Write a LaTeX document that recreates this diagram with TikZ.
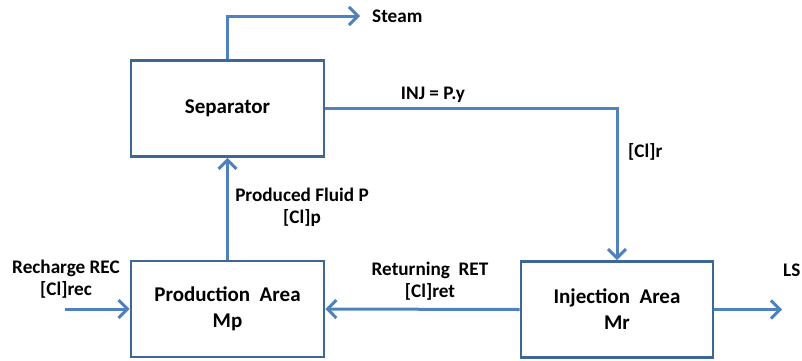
\documentclass[tikz,border=0pt]{standalone}
\usepackage{fontspec}
\setmainfont{Carlito}
\usetikzlibrary{arrows.meta}
\definecolor{flow}{HTML}{4F81BD}
\definecolor{boxc}{HTML}{3F6796}
\begin{document}
\begin{tikzpicture}[x=1pt,y=-1pt,
  blk/.style={draw=boxc,line width=2.6pt,fill=white,minimum width=193pt,minimum height=96pt,
    align=center,font=\fontsize{21}{26}\selectfont\bfseries,inner sep=0pt},
  flowline/.style={draw=flow,line width=3pt},
  flowarrow/.style={flowline,-{Straight Barb[length=9pt,width=18pt,line width=3pt]}},
  lbl/.style={font=\fontsize{19.2}{22}\selectfont\bfseries,inner sep=0pt,align=center}]
\useasboundingbox (0,0) rectangle (802,360);
\node[blk] (sep) at (227.5,108.5) {Separator};
\node[blk] (prod) at (227.5,309) {Production\ \ Area\\Mp};
\node[blk,minimum width=192pt] (inj) at (617,309.5) {Injection\ \ Area\\Mr};
\coordinate (steamEnd) at (360,16);
\coordinate (recStart) at (65,309);
\coordinate (lsEnd) at (782,309.5);
\draw[flowarrow] (sep.north) |- (steamEnd);
\draw[flowarrow] (sep.east) -| (inj.north);
\draw[flowarrow] (prod.north) -- (sep.south);
\draw[flowarrow] (recStart) -- (prod.west);
\draw[flowarrow] (inj.west) -- (prod.east);
\draw[flowarrow] (inj.east) -- (lsEnd);
\node[lbl,anchor=west] (steamL) at (372,16) {Steam};
\node[lbl] (injL) at (433,95) {INJ = P.y};
\node[lbl,anchor=west] (clrL) at (628,152) {[Cl]r};
\node[lbl] (pfL) at (302,207) {Produced Fluid P\\{[Cl]p}};
\node[lbl] (recL) at (66,279) {Recharge REC\\{[Cl]rec}};
\node[lbl] (retL) at (430,281) {Returning\ \ RET\\{[Cl]ret}};
\node[lbl,anchor=west] (lsL) at (783,270) {LS};
\end{tikzpicture}
\end{document}
